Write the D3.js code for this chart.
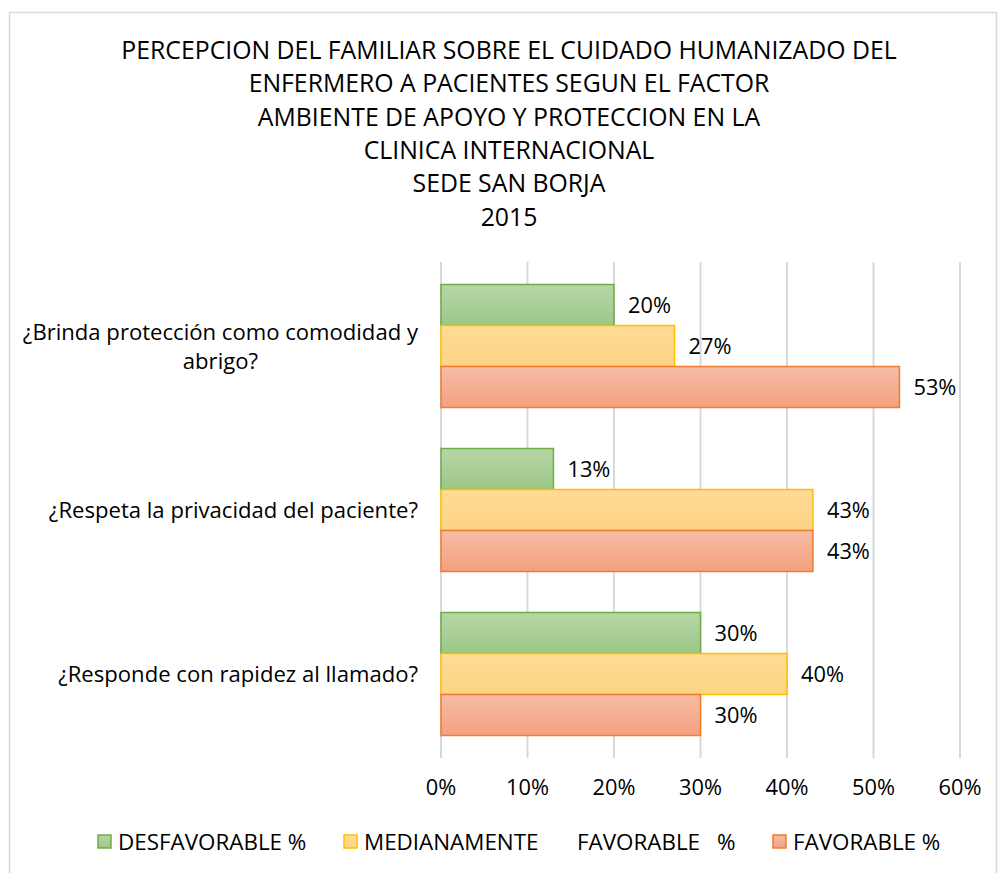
<!DOCTYPE html>
<html>
<head>
<meta charset="utf-8">
<script src="https://cdn.jsdelivr.net/npm/d3@7"></script>
<style>
	body { margin: 0; background: #fff; }
	text { font-family: 'Open Sans', sans-serif; fill: #000; }
</style>
</head>
<body>
<div id="chart"></div>
<script>
var titleLines = [
	'PERCEPCION DEL FAMILIAR SOBRE EL CUIDADO HUMANIZADO DEL',
	'ENFERMERO A PACIENTES SEGUN EL FACTOR',
	'AMBIENTE DE APOYO Y PROTECCION EN LA',
	'CLINICA INTERNACIONAL',
	'SEDE SAN BORJA',
	'2015',
];
var categories = [
	['¿Brinda protección como comodidad y', 'abrigo?'],
	['¿Respeta la privacidad del paciente?'],
	['¿Responde con rapidez al llamado?'],
];
var seriesNames = ['DESFAVORABLE %', 'MEDIANAMENTE      FAVORABLE   %', 'FAVORABLE %'];
var desfavorable = [20, 13, 30];
var medianamente = [27, 43, 40];
var favorable = [53, 43, 30];
var ticks = [0, 10, 20, 30, 40, 50, 60];

var colors = [
	{ top: '#b6d6a6', bottom: '#9cc888', stroke: '#70ad47' },
	{ top: '#fedb97', bottom: '#fdd483', stroke: '#ffc000' },
	{ top: '#f6bba4', bottom: '#f4a17f', stroke: '#ed7d31' },
];

var width = 998;
var height = 873;
var margin = { top: 264, left: 441, right: 38, bottom: 117 };

var svg = d3.select('#chart').append('svg').attr('width', width).attr('height', height);

// gradients
var defs = svg.append('defs');
colors.forEach(function (c, i) {
	var g = defs.append('linearGradient').attr('id', 'grad' + i).attr('x1', 0).attr('y1', 0).attr('x2', 0).attr('y2', 1);
	g.append('stop').attr('offset', '0%').attr('stop-color', c.top);
	g.append('stop').attr('offset', '100%').attr('stop-color', c.bottom);
});

// chart border
svg.append('rect')
	.attr('x', 9.5).attr('y', 12.5)
	.attr('width', 987).attr('height', 880)
	.attr('fill', 'none').attr('stroke', '#d9d9d9').attr('stroke-width', 1.5);

// title
svg.append('g').selectAll('text')
	.data(titleLines)
	.enter()
	.append('text')
	.attr('x', 509)
	.attr('y', function (d, i) { return 59 + i * 33.3; })
	.attr('text-anchor', 'middle')
	.attr('font-size', '24.8px')
	.text(function (d) { return d; });

var x = d3.scaleLinear().domain([0, 60]).range([margin.left, width - margin.right]);
var y = d3.scaleBand().domain(d3.range(categories.length)).range([margin.top, height - margin.bottom]).paddingInner(0.25).paddingOuter(0.125);
var ySub = d3.scaleBand().domain([0, 1, 2]).range([0, y.bandwidth()]);

// gridlines
svg.append('g').selectAll('line')
	.data(ticks)
	.enter()
	.append('line')
	.attr('x1', function (d) { return x(d); })
	.attr('x2', function (d) { return x(d); })
	.attr('y1', margin.top - 2)
	.attr('y2', height - margin.bottom + 2)
	.attr('stroke', '#d9d9d9')
	.attr('stroke-width', 2);

// x axis labels
svg.append('g').selectAll('text')
	.data(ticks)
	.enter()
	.append('text')
	.attr('x', function (d) { return x(d); })
	.attr('y', 795)
	.attr('text-anchor', 'middle')
	.attr('font-size', '21.8px')
	.text(function (d) { return d + '%'; });

var series = [desfavorable, medianamente, favorable];
var bars = [];
categories.forEach(function (c, ci) {
	series.forEach(function (s, si) {
		bars.push({ cat: ci, s: si, value: s[ci] });
	});
});

svg.append('g').selectAll('rect')
	.data(bars)
	.enter()
	.append('rect')
	.attr('x', x(0))
	.attr('y', function (d) { return y(d.cat) + ySub(d.s); })
	.attr('width', function (d) { return x(d.value) - x(0); })
	.attr('height', ySub.bandwidth())
	.attr('fill', function (d) { return 'url(#grad' + d.s + ')'; })
	.attr('stroke', function (d) { return colors[d.s].stroke; })
	.attr('stroke-width', 1.5);

// value labels
svg.append('g').selectAll('text')
	.data(bars)
	.enter()
	.append('text')
	.attr('x', function (d) { return x(d.value) + 14; })
	.attr('y', function (d) { return y(d.cat) + ySub(d.s) + ySub.bandwidth() / 2 + 8; })
	.attr('font-size', '21.8px')
	.text(function (d) { return d.value + '%'; });

// category labels: block right-aligned, lines centred within the block
var labelRight = 418;
categories.forEach(function (lines, i) {
	var t = svg.append('text')
		.attr('font-size', '22.1px')
		.attr('y', y(i) + y.bandwidth() / 2 + 8 - (lines.length - 1) * 14.5);
	var spans = t.selectAll('tspan')
		.data(lines)
		.enter()
		.append('tspan')
		.attr('dy', function (d, j) { return j === 0 ? 0 : 29; })
		.text(function (d) { return d; });
	var maxW = d3.max(spans.nodes(), function (n) { return n.getComputedTextLength(); });
	t.attr('text-anchor', 'middle');
	spans.attr('x', labelRight - maxW / 2);
});

// legend
var legendX = [98, 344, 773];
var legend = svg.append('g').selectAll('g')
	.data(seriesNames)
	.enter()
	.append('g')
	.attr('transform', function (d, i) { return 'translate(' + legendX[i] + ',835)'; });
legend.append('rect')
	.attr('width', 13).attr('height', 13)
	.attr('fill', function (d, i) { return 'url(#grad' + i + ')'; })
	.attr('stroke', function (d, i) { return colors[i].stroke; })
	.attr('stroke-width', 1.5);
// the middle entry keeps its wide gaps, so its words are placed at fixed offsets
var partOffsets = [0, 213, 353];
legend.append('text')
	.attr('y', 15)
	.attr('font-size', '22.4px')
	.selectAll('tspan')
	.data(function (d) { return d.split(/\s{2,}/); })
	.enter()
	.append('tspan')
	.attr('x', function (d, j) { return 20 + partOffsets[j]; })
	.text(function (d) { return d; });
</script>
</body>
</html>
